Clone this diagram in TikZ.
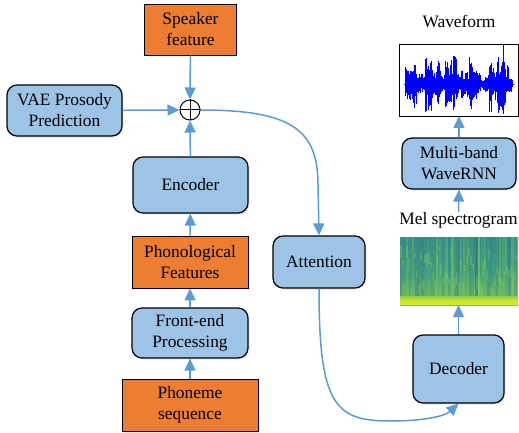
\documentclass[tikz,border=0pt]{standalone}
\usepackage{fontspec}
\setmainfont{Liberation Serif}
\usetikzlibrary{arrows.meta,shadows}
\definecolor{boxblue}{HTML}{9DC3E6}
\definecolor{boxorange}{HTML}{ED7D31}
\definecolor{linkblue}{HTML}{5B9BD5}
\definecolor{melTop}{HTML}{2E8C8C}
\definecolor{melMid}{HTML}{3A9C84}
\definecolor{melBot}{HTML}{7CC858}
\definecolor{melDark}{HTML}{2A6890}
\definecolor{melLight}{HTML}{8CCF50}
\definecolor{melYellow}{HTML}{D4E42C}
\begin{document}
\begin{tikzpicture}[x=1pt, y=-1pt,
    font=\fontsize{17.4}{21}\selectfont,
    netbox/.style={draw=black, line width=1.2pt, fill=boxblue, rounded corners=10pt,
        align=center, inner sep=0pt,
        drop shadow={opacity=0.18, shadow xshift=1.5pt, shadow yshift=-1.5pt}},
    databox/.style={draw=black, line width=0.9pt, fill=boxorange, align=center, inner sep=0pt,
        drop shadow={opacity=0.12, shadow xshift=1.5pt, shadow yshift=-1.5pt}},
    link/.style={draw=linkblue, line width=1.5pt, -{Triangle[length=12pt,width=11pt]}}]
    \useasboundingbox (0,0) rectangle (519,433);

    \node[databox, minimum width=92pt, minimum height=51pt] (spk) at (190.5,29.5) {Speaker\\feature};
    \node[netbox, minimum width=115pt, minimum height=51pt] (vae) at (64.5,110.5) {VAE Prosody\\Prediction};
    \node[draw=black, line width=1pt, fill=white, circle, minimum size=20pt, inner sep=0pt] (plus) at (190,110) {};
    \draw[line width=1pt] (plus.north) -- (plus.south) (plus.west) -- (plus.east);
    \node[netbox, minimum width=115pt, minimum height=56pt] (enc) at (190.5,185) {Encoder};
    \node[databox, minimum width=116pt, minimum height=52pt] (phon) at (190,262) {Phonological\\Features};
    \node[netbox, minimum width=116pt, minimum height=50pt] (fe) at (190,333) {Front-end\\Processing};
    \node[databox, minimum width=136pt, minimum height=52pt] (pho) at (190,405) {Phoneme\\sequence};
    \node[netbox, minimum width=92pt, minimum height=52pt] (att) at (319,262) {Attention};
    \node[netbox, minimum width=91pt, minimum height=68pt] (dec) at (458.5,369) {Decoder};
    \node[netbox, minimum width=114pt, minimum height=51pt] (wrnn) at (459,163.5) {Multi-band\\WaveRNN};
    \node[inner sep=0pt] (mel) at (458.5,220) {Mel spectrogram};
    \node[inner sep=0pt] (wav) at (459,22) {Waveform};

    % mel spectrogram picture
    \coordinate (melNW) at (400,237);
    \coordinate (melSE) at (518,305);
    \begin{scope}
        \clip (melNW) rectangle (melSE);
        \fill[top color=melTop, bottom color=melBot, middle color=melMid] (melNW) rectangle (melSE);
        \pgfmathsetseed{11}
        \foreach \x in {400,403,...,518} {
            \pgfmathsetmacro\m{100*rnd}
            \pgfmathsetmacro\o{0.2+0.5*rnd}
            \pgfmathsetmacro\w{1.5+2.5*rnd}
            \fill[melDark!\m!melLight, opacity=\o] (\x,237) rectangle ++(\w,64);
        }
        \foreach \x in {400,402,...,518} {
            \pgfmathsetmacro\y{245+45*rnd}
            \pgfmathsetmacro\h{4+10*rnd}
            \fill[melLight, opacity=0.3] (\x,\y) rectangle ++(2,\h);
        }
        \fill[top color=melLight, bottom color=melYellow] (400,296) rectangle (518,301);
        \fill[melYellow] (400,301) rectangle (melSE);
    \end{scope}

    % waveform picture
    \coordinate (wavNW) at (399,44);
    \coordinate (wavSE) at (518,116);
    \fill[white] (wavNW) rectangle (wavSE);
    \pgfmathsetseed{5}
    \foreach \s in {405,409,...,509} {
        \pgfmathsetmacro\e{6+26*rnd}
        \foreach \x in {0,0.6,...,3.6} {
            \pgfmathsetmacro\a{\e*(0.3+0.7*rnd)}
            \pgfmathsetmacro\b{\e*(0.3+0.7*rnd)}
            \draw[blue, line width=0.8pt] (\s+\x,84-\a) -- (\s+\x,84+\b);
        }
    }
    \draw[blue, line width=0.7pt] (404,84) -- (514,84);
    \draw[blue, line width=0.9pt] (503,84) -- (503,45) (503,84) -- (503,114);
    \draw[line width=0.8pt] (wavNW) rectangle (wavSE);

    \draw[link] (spk) -- (plus);
    \draw[link] (vae) -- (plus);
    \draw[link] (enc) -- (plus);
    \draw[link] (phon) -- (enc);
    \draw[link] (fe) -- (phon);
    \draw[link] (pho) -- (fe);
    \draw[link] (plus.east) .. controls (292,110) and (318,130) .. (318,185) -- (att.north);
    \draw[link] (att.south) .. controls (319,405) and (335,421) .. (390,421) .. controls (425,421) and (445,416) .. (dec.south);
    \draw[link] (dec.north) -- (458.5,305);
    \draw[link] (mel.north) -- (wrnn.south);
    \draw[link] (wrnn.north) -- (459,116);
\end{tikzpicture}
\end{document}
